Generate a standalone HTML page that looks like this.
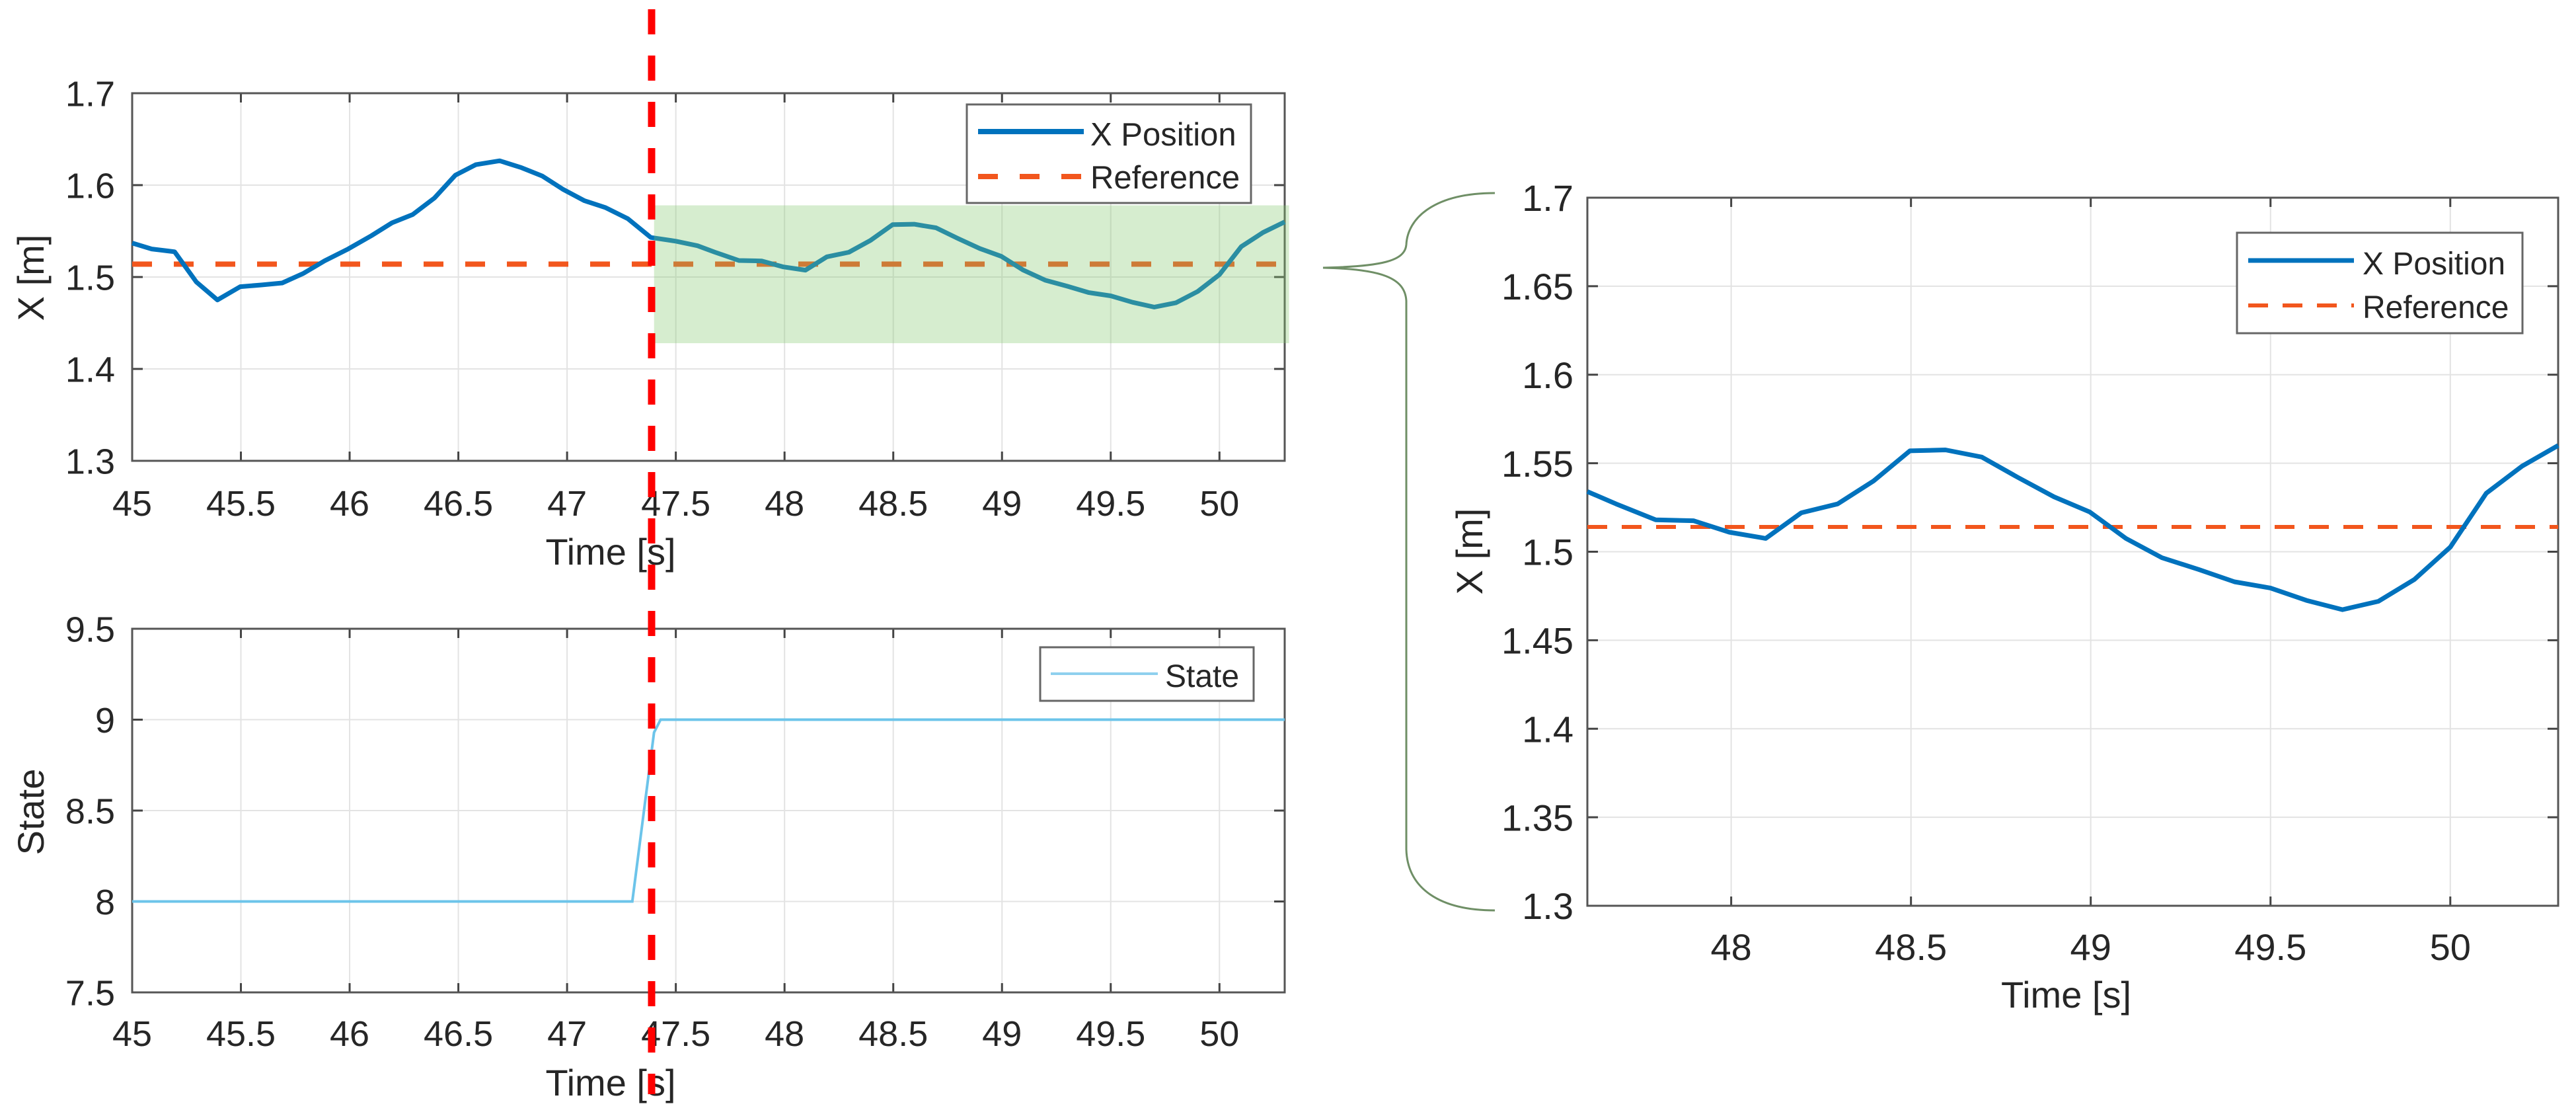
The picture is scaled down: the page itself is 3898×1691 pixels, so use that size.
<!DOCTYPE html>
<html><head><meta charset="utf-8"><style>
html,body{margin:0;padding:0;background:#fff}
svg{display:block}
text{font-family:"Liberation Sans",sans-serif;fill:#262626}
</style></head><body>
<svg id="fig" width="3898" height="1691" viewBox="0 0 3898 1691" xmlns="http://www.w3.org/2000/svg">
<g id="g-top"></g>
<g id="g-bot"></g>
<g id="g-right"></g>
<path d="M2262,292 C2170,292 2130,330 2128,370 C2126,395 2090,403 2002,405 C2090,407 2126,420 2128,455 L2128,1285 C2130,1345 2180,1377 2262,1377" fill="none" stroke="#6f8f66" stroke-width="3"/>
<line x1="986" y1="14" x2="986" y2="1655" stroke="#ff0000" stroke-width="11" stroke-dasharray="38 32"/>
</svg>
<script>
// X position data (time [s], metres)
const xTimes = [45.0,45.09,45.195,45.295,45.392,45.497,45.594,45.69,45.788,45.885,45.993,46.10,46.195,46.29,46.39,46.486,46.58,46.69,46.79,46.885,46.98,47.08,47.175,47.28,47.385,47.5,47.6,47.68,47.79,47.895,47.995,48.096,48.195,48.296,48.396,48.497,48.596,48.697,48.797,48.898,48.997,49.098,49.198,49.30,49.40,49.50,49.60,49.70,49.80,49.90,50.0,50.10,50.20,50.30];
const xValues = [1.537,1.5305,1.5275,1.4946,1.475,1.4895,1.4914,1.4935,1.504,1.5176,1.5305,1.545,1.559,1.568,1.586,1.6108,1.6222,1.6265,1.619,1.61,1.5956,1.583,1.5757,1.5634,1.543,1.539,1.534,1.527,1.518,1.5175,1.511,1.5075,1.522,1.527,1.540,1.557,1.5575,1.5535,1.542,1.531,1.5225,1.5075,1.4966,1.490,1.483,1.4795,1.4725,1.4673,1.472,1.4843,1.5026,1.533,1.5484,1.560];
const refValue = 1.514;
const stateTimes = [45.0,47.3,47.4,47.43,50.3];
const stateValues = [8,8,8.93,9,9];
const topXTicks = [45,45.5,46,46.5,47,47.5,48,48.5,49,49.5,50];
const topYTicks = [1.3,1.4,1.5,1.6,1.7];
const stateYTicks = [7.5,8,8.5,9,9.5];
const rightXTicks = [48,48.5,49,49.5,50];
const rightYTicks = [1.3,1.35,1.4,1.45,1.5,1.55,1.6,1.65,1.7];
const bandRange = [47.4,50.32,1.428,1.578];

const NS="http://www.w3.org/2000/svg";
function mk(parent,tag,attrs,txt){const e=document.createElementNS(NS,tag);for(const k in attrs)e.setAttribute(k,attrs[k]);if(txt!==undefined)e.textContent=txt;parent.appendChild(e);return e;}
function scale(d0,d1,r0,r1){return v=>r0+(v-d0)/(d1-d0)*(r1-r0);}

function axes(g,o){
  const sx=scale(o.x0,o.x1,o.L,o.R), sy=scale(o.y0,o.y1,o.B,o.T);
  o.xt.forEach(t=>{const x=sx(t);
    const gl=mk(g,'line',{x1:x,y1:o.T,x2:x,y2:o.B,stroke:'#e3e3e3','stroke-width':2});
    
    
    const tk=mk(g,'line',{x1:x,y1:o.B,x2:x,y2:o.B-14,stroke:'#444','stroke-width':3});
    
    
    const tk2=mk(g,'line',{x1:x,y1:o.T,x2:x,y2:o.T+14,stroke:'#444','stroke-width':3});
    
    
    const lb=mk(g,'text',{x:x,y:o.xl,'text-anchor':'middle','font-size':o.fs},String(t));
    
    
  });
  o.yt.forEach(t=>{const y=sy(t);
    const gl=mk(g,'line',{x1:o.L,y1:y,x2:o.R,y2:y,stroke:'#e3e3e3','stroke-width':2});
    
    
    const tk=mk(g,'line',{x1:o.L,y1:y,x2:o.L+16,y2:y,stroke:'#444','stroke-width':3});
    
    
    const tk2=mk(g,'line',{x1:o.R,y1:y,x2:o.R-16,y2:y,stroke:'#444','stroke-width':3});
    
    
    const lb=mk(g,'text',{x:o.yl,y:y+o.fs*0.36,'text-anchor':'end','font-size':o.fs},String(t));
    
    
  });
  const bx=mk(g,'rect',{x:o.L,y:o.T,width:o.R-o.L,height:o.B-o.T,fill:'none',stroke:'#555','stroke-width':3});
  
  
  const xt=mk(g,'text',{x:(o.L+o.R)/2+o.xtOff,y:o.xtY,'text-anchor':'middle','font-size':o.tfs},'Time [s]');
  
  
  const yt=mk(g,'text',{x:0,y:0,'text-anchor':'middle','font-size':o.tfs,transform:`translate(${o.ytX},${o.ytY}) rotate(-90)`},o.ytitle);
  
  
  return {sx,sy};
}
function pathFrom(ts,vs,sx,sy,x0,x1){let d='';let first=true;for(let i=0;i<ts.length;i++){if(ts[i]<x0-0.05||ts[i]>x1+0.05)continue;d+=(first?'M':'L')+sx(ts[i]).toFixed(1)+','+sy(vs[i]).toFixed(1);first=false;}return d;}

// top plot
(function(){
  const g=document.getElementById('g-top');
  const o={L:200,R:1944,T:141,B:697,x0:45,x1:50.3,y0:1.3,y1:1.7,xt:topXTicks,yt:topYTicks,xl:780,yl:174,fs:54,tfs:56,xtOff:-148,xtY:854,ytX:66,ytY:420,ytitle:'X [m]'};
  const {sx,sy}=axes(g,o);
  const ref=mk(g,'line',{x1:o.L,y1:sy(refValue),x2:o.R,y2:sy(refValue),stroke:'#f2561d','stroke-width':8,'stroke-dasharray':'30 33'});
  
  
  const ln=mk(g,'path',{d:pathFrom(xTimes,xValues,sx,sy,45,50.3),fill:'none',stroke:'#0072bd','stroke-width':7,'stroke-linejoin':'round'});
  
  
  const band=mk(g,'rect',{x:sx(bandRange[0]),y:sy(bandRange[3]),width:sx(bandRange[1])-sx(bandRange[0]),height:sy(bandRange[2])-sy(bandRange[3]),fill:'rgb(130,200,110)','fill-opacity':0.33});
  
  
  const lg=mk(g,'g',{});
  
  
  mk(lg,'rect',{x:1463,y:158,width:430,height:149,fill:'#fff',stroke:'#666','stroke-width':3});
  mk(lg,'line',{x1:1480,y1:199,x2:1640,y2:199,stroke:'#0072bd','stroke-width':8});
  mk(lg,'text',{x:1650,y:220,'font-size':49},'X Position');
  mk(lg,'line',{x1:1480,y1:267,x2:1640,y2:267,stroke:'#f2561d','stroke-width':8,'stroke-dasharray':'30 33'});
  mk(lg,'text',{x:1650,y:285,'font-size':49},'Reference');
})();

// bottom plot
(function(){
  const g=document.getElementById('g-bot');
  const o={L:200,R:1944,T:951,B:1501,x0:45,x1:50.3,y0:7.5,y1:9.5,xt:topXTicks,yt:stateYTicks,xl:1582,yl:174,fs:54,tfs:56,xtOff:-148,xtY:1657,ytX:66,ytY:1228,ytitle:'State'};
  const {sx,sy}=axes(g,o);
  const ln=mk(g,'path',{d:pathFrom(stateTimes,stateValues,sx,sy,45,50.3),fill:'none',stroke:'#6cc4ea','stroke-width':4});
  
  
  const lg=mk(g,'g',{});
  
  
  mk(lg,'rect',{x:1574,y:979,width:323,height:81,fill:'#fff',stroke:'#666','stroke-width':3});
  mk(lg,'line',{x1:1590,y1:1019,x2:1752,y2:1019,stroke:'#8fd0ee','stroke-width':4});
  mk(lg,'text',{x:1763,y:1039,'font-size':48},'State');
})();

// right zoom plot
(function(){
  const g=document.getElementById('g-right');
  const o={L:2402,R:3871,T:299,B:1370,x0:47.6,x1:50.3,y0:1.3,y1:1.7,xt:rightXTicks,yt:rightYTicks,xl:1452,yl:2381,fs:56,tfs:56,xtOff:-10,xtY:1524,ytX:2243,ytY:834,ytitle:'X [m]'};
  const {sx,sy}=axes(g,o);
  const ref=mk(g,'line',{x1:o.L,y1:sy(refValue),x2:o.R,y2:sy(refValue),stroke:'#f2561d','stroke-width':6,'stroke-dasharray':'30 22'});
  
  
  const ln=mk(g,'path',{d:pathFrom(xTimes,xValues,sx,sy,47.6,50.3),fill:'none',stroke:'#0072bd','stroke-width':7,'stroke-linejoin':'round'});
  
  
  const lg=mk(g,'g',{});
  
  
  mk(lg,'rect',{x:3385,y:352,width:432,height:152,fill:'#fff',stroke:'#666','stroke-width':3});
  mk(lg,'line',{x1:3402,y1:394,x2:3562,y2:394,stroke:'#0072bd','stroke-width':7});
  mk(lg,'text',{x:3575,y:415,'font-size':48},'X Position');
  mk(lg,'line',{x1:3402,y1:462,x2:3562,y2:462,stroke:'#f2561d','stroke-width':6,'stroke-dasharray':'30 22'});
  mk(lg,'text',{x:3575,y:481,'font-size':48},'Reference');
})();
</script>
</body></html>
